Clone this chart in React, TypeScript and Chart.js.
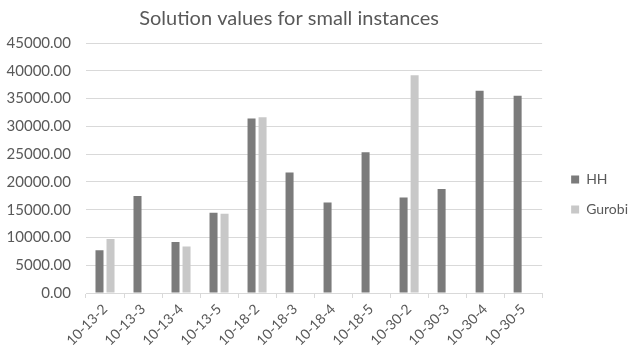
import React, { useEffect, useRef } from "react";
import { Chart, registerables } from "chart.js";

Chart.register(...registerables);

const categories = [
  "10-13-2", "10-13-3", "10-13-4", "10-13-5",
  "10-18-2", "10-18-3", "10-18-4", "10-18-5",
  "10-30-2", "10-30-3", "10-30-4", "10-30-5",
];
const hhValues = [7700, 17450, 9200, 14450, 31400, 21700, 16300, 25350, 17200, 18700, 36400, 35500];
const gurobiValues: (number | null)[] = [9700, null, 8350, 14250, 31650, null, null, null, 39200, null, null, null];
const seriesNames = ["HH", "Gurobi"];
const yMin = 0;
const yMax = 45000;
const yStep = 5000;
const titleText = "Solution values for small instances";

const FONT = '"Lato", "Open Sans", sans-serif';
const TEXT = "#595959";
const GRID = "#d9d9d9";

const titlePlugin = {
  id: "customTitle",
  afterDraw(chart: any) {
    const ctx = chart.ctx;
    ctx.save();
    ctx.font = `20px ${FONT}`;
    ctx.fillStyle = TEXT;
    ctx.textAlign = "center";
    ctx.textBaseline = "middle";
    ctx.fillText(titleText, chart.chartArea.left + (chart.chartArea.right - chart.chartArea.left) / 2 - 25, 19);
    ctx.restore();
  },
};

export default function App() {
  const ref = useRef<HTMLCanvasElement | null>(null);
  useEffect(() => {
    document.body.style.margin = "0";
    const canvas = ref.current;
    if (!canvas) return;
    const chart = new Chart(canvas, {
      type: "bar",
      data: {
        labels: categories,
        datasets: [
          {
            label: seriesNames[0],
            data: hhValues,
            backgroundColor: "#7b7b7b",
            categoryPercentage: 0.58,
            barPercentage: 0.727,
          },
          {
            label: seriesNames[1],
            data: gurobiValues,
            backgroundColor: "#c8c8c8",
            categoryPercentage: 0.58,
            barPercentage: 0.727,
          },
        ],
      },
      options: {
        responsive: false,
        animation: false,
        layout: { padding: { top: 43, left: 0, right: -8, bottom: 7 } },
        plugins: {
          title: { display: false },
          tooltip: { enabled: false },
          legend: {
            position: "right",
            labels: {
              boxWidth: 8,
              boxHeight: 8,
              padding: 16,
              color: TEXT,
              font: { family: FONT, size: 14 },
            },
          },
        },
        scales: {
          x: {
            offset: true,
            grid: {
              display: true,
              drawOnChartArea: false,
              drawTicks: true,
              tickLength: 5,
              color: GRID,
              offset: true,
            },
            border: { display: true, color: GRID },
            ticks: {
              minRotation: 45,
              maxRotation: 45,
              color: TEXT,
              font: { family: FONT, size: 14 },
              padding: 3,
            },
            afterFit: (s: any) => {
              s.height = 53;
            },
          },
          y: {
            min: yMin,
            max: yMax,
            grid: { color: GRID, drawTicks: false },
            border: { display: false },
            ticks: {
              stepSize: yStep,
              padding: 15,
              color: TEXT,
              font: { family: FONT, size: 15 },
              callback: (v: any) => Number(v).toFixed(2),
            },
            afterFit: (s: any) => {
              s.width = 86;
            },
          },
          spacer: {
            type: "linear",
            position: "right",
            display: true,
            grid: { display: false, drawTicks: false },
            border: { display: false },
            ticks: { display: false },
            afterFit: (s: any) => {
              s.width = 13;
            },
          },
        },
      },
      plugins: [titlePlugin],
    });
    return () => chart.destroy();
  }, []);
  return (
    <div style={{ width: 630, height: 353 }}>
      <canvas ref={ref} width={630} height={353} />
    </div>
  );
}
